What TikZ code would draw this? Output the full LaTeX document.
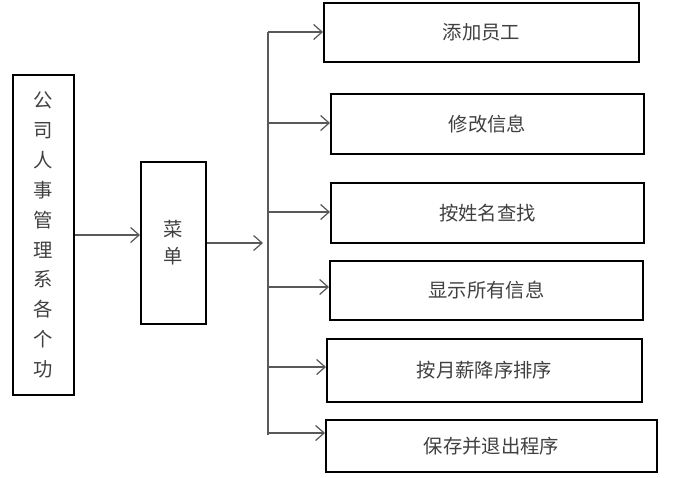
\documentclass[tikz,border=0pt]{standalone}
\usepackage{fontspec}
\setmainfont{Noto Sans CJK SC}
\usetikzlibrary{arrows.meta}

\def \unit {0.02cm}
\def \busx {268}
\tikzstyle{box}=[draw=black, line width=1.1pt, inner sep=0pt, text=black!75]
\tikzstyle{link}=[draw=black!65, line width=0.7pt]
\tikzstyle{tip}=[-{Straight Barb[length=1.7mm, width=3mm]}]

\begin{document}
\begin{tikzpicture}[x=\unit, y=-\unit, font=\fontsize{11}{17}\selectfont]

\useasboundingbox (0,0) rectangle (688,477);

\node[box, minimum width=61*\unit, minimum height=320*\unit, align=center] (S) at (43.5,235)
    {公\\司\\人\\事\\管\\理\\系\\各\\个\\功};

\node[box, minimum width=65*\unit, minimum height=162*\unit, align=center,
      font=\fontsize{11}{15.4}\selectfont] (M) at (173.5,243) {菜\\单};

\foreach \i/\cx/\cy/\w/\h/\ay/\t in {
    1/481.5/32.5/315/59/32/添加员工,
    2/487.5/124/313/60/123/修改信息,
    3/487.5/213/313/60/212/按姓名查找,
    4/486.5/290.5/313/59/287/显示所有信息,
    5/484.5/370.5/315/63/367/按月薪降序排序,
    6/491.5/446/331/52/433/保存并退出程序} {
    \node[box, minimum width=\w*\unit, minimum height=\h*\unit] (F\i) at (\cx,\cy) {\t};
    \coordinate (B\i) at (\busx,\ay);
    \draw[link, tip] (B\i) -- (B\i -| F\i.west);
}

\draw[link] (B1) -- ([yshift=-2*\unit]B6);

\coordinate (J) at (263,243);
\draw[link, tip] (S.east) -- (S.east -| M.west);
\draw[link, tip] (M.east) -- (J);

\end{tikzpicture}
\end{document}
